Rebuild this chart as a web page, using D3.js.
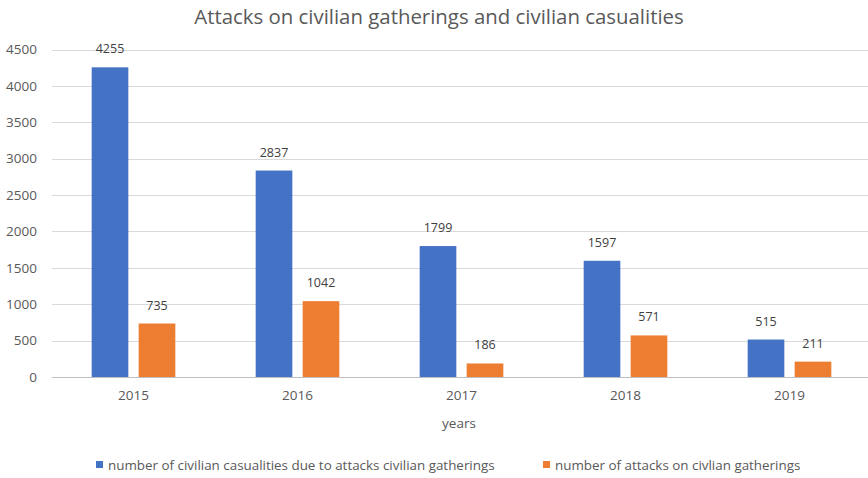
<!DOCTYPE html>
<html>
<head>
<meta charset="utf-8">
<script src="https://cdn.jsdelivr.net/npm/d3@7.9.0/dist/d3.min.js"></script>
<style>
  body { margin: 0; background: #fff; }
  svg { font-family: "Open Sans", "Liberation Sans", sans-serif; }
</style>
</head>
<body>
<svg id="chart" width="868" height="478"></svg>
<script>
// chart data
const years = ["2015", "2016", "2017", "2018", "2019"];
const seriesNames = [
  "number of civilian casualities due to attacks civilian gatherings",
  "number of attacks on civlian gatherings"
];
const casualties = [4255, 2837, 1799, 1597, 515];
const attacks = [735, 1042, 186, 571, 211];
const yTicks = [0, 500, 1000, 1500, 2000, 2500, 3000, 3500, 4000, 4500];
const colors = ["#4472C4", "#ED7D31"];

const svg = d3.select("#chart");
const textColor = "#595959";

// plot area
const plotLeft = 51.5, plotRight = 871.5, plotTop = 49.5, plotBottom = 377;

const x0 = d3.scaleBand()
  .domain(years)
  .range([plotLeft, plotRight])
  .paddingInner(0.49)
  .paddingOuter(0.245);

const x1 = d3.scaleBand()
  .domain([0, 1])
  .range([0, x0.bandwidth()])
  .paddingInner(0.22);

const y = d3.scaleLinear()
  .domain([0, 4500])
  .range([plotBottom, plotTop]);

// title
svg.append("text")
  .attr("x", 439)
  .attr("y", 24)
  .attr("text-anchor", "middle")
  .attr("fill", textColor)
  .style("font-size", "20.4px")
  .text("Attacks on civilian gatherings and civilian casualities");

// gridlines
svg.append("g")
  .selectAll("line")
  .data(yTicks)
  .join("line")
  .attr("x1", 52)
  .attr("x2", 868)
  .attr("y1", d => Math.round(y(d)) + 0.5)
  .attr("y2", d => Math.round(y(d)) + 0.5)
  .attr("stroke", d => d === 0 ? "#bfbfbf" : "#d9d9d9")
  .attr("stroke-width", 1);

// y axis labels
svg.append("g")
  .selectAll("text")
  .data(yTicks)
  .join("text")
  .attr("x", 37)
  .attr("y", d => y(d))
  .attr("dy", "0.35em")
  .attr("text-anchor", "end")
  .attr("fill", textColor)
  .style("font-size", "13.5px")
  .text(d => d);

// bars
const rows = years.map((yr, i) => ({ year: yr, values: [casualties[i], attacks[i]] }));

const groups = svg.append("g")
  .selectAll("g")
  .data(rows)
  .join("g")
  .attr("transform", d => `translate(${x0(d.year)},0)`);

groups.selectAll("rect")
  .data(d => d.values.map((v, k) => ({ k, v })))
  .join("rect")
  .attr("x", d => x1(d.k))
  .attr("width", x1.bandwidth())
  .attr("y", d => y(d.v))
  .attr("height", d => plotBottom - y(d.v))
  .attr("fill", d => colors[d.k]);

groups.selectAll("text")
  .data(d => d.values.map((v, k) => ({ k, v })))
  .join("text")
  .attr("x", d => x1(d.k) + x1.bandwidth() / 2)
  .attr("y", d => y(d.v) - 14)
  .attr("text-anchor", "middle")
  .attr("fill", "#404040")
  .style("font-size", "12.5px")
  .text(d => d.v);

// x labels
svg.append("g")
  .selectAll("text")
  .data(years)
  .join("text")
  .attr("x", d => x0(d) + x0.bandwidth() / 2)
  .attr("y", 400)
  .attr("text-anchor", "middle")
  .attr("fill", textColor)
  .style("font-size", "13.5px")
  .text(d => d);

// x axis title
svg.append("text")
  .attr("x", 459)
  .attr("y", 428)
  .attr("text-anchor", "middle")
  .attr("fill", textColor)
  .style("font-size", "13.5px")
  .text("years");

// legend
const legendX = [96, 543];
const legend = svg.append("g")
  .selectAll("g")
  .data(seriesNames)
  .join("g")
  .attr("transform", (d, i) => `translate(${legendX[i]},465)`);

legend.append("rect")
  .attr("x", 0)
  .attr("y", -4)
  .attr("width", 7)
  .attr("height", 7)
  .attr("fill", (d, i) => colors[i]);

legend.append("text")
  .attr("x", 12)
  .attr("y", 0)
  .attr("dy", "0.35em")
  .attr("fill", textColor)
  .style("font-size", "13.4px")
  .text(d => d);
</script>
</body>
</html>
